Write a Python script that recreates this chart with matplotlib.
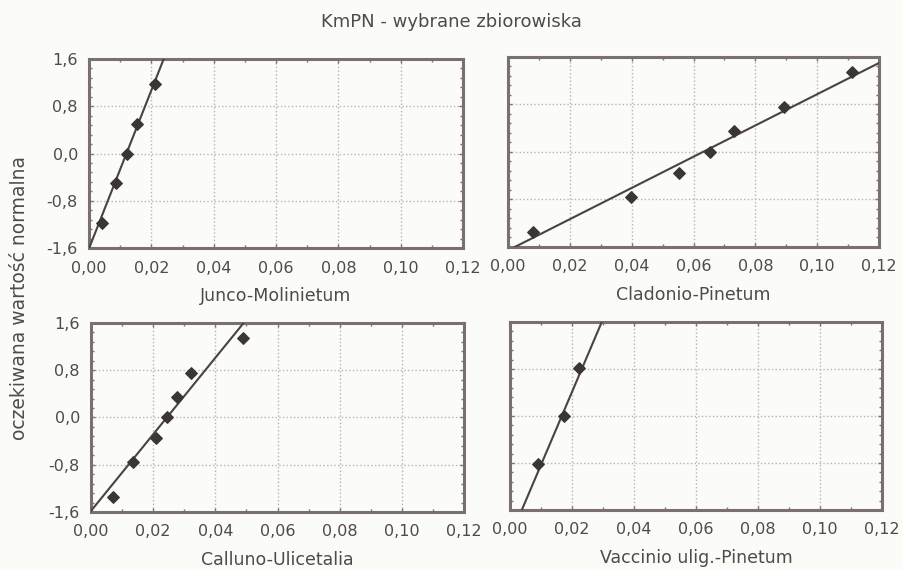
import numpy as np
import matplotlib.pyplot as plt
from matplotlib.ticker import FuncFormatter, MultipleLocator

# values
junco_x = [0.0041, 0.0087, 0.0121, 0.0155, 0.0212]
junco_z = [-1.18, -0.50, 0.0, 0.50, 1.18]
cladonio_x = [0.0080, 0.0398, 0.0553, 0.0653, 0.0732, 0.0893, 0.1111]
cladonio_z = [-1.35, -0.76, -0.35, 0.0, 0.35, 0.76, 1.35]
calluno_x = [0.0072, 0.0134, 0.0209, 0.0244, 0.0278, 0.0322, 0.0490]
calluno_z = [-1.35, -0.76, -0.35, 0.0, 0.35, 0.76, 1.35]
vaccinio_x = [0.0089, 0.0175, 0.0224]
vaccinio_z = [-0.82, 0.0, 0.82]

# fitted normal line: mean, sd
line_mean = [0.0120, 0.0630, 0.0244, 0.0167]
line_sd = [0.00747, 0.0380, 0.01543, 0.00806]

names = ['Junco-Molinietum', 'Cladonio-Pinetum', 'Calluno-Ulicetalia', 'Vaccinio ulig.-Pinetum']
xs = [junco_x, cladonio_x, calluno_x, vaccinio_x]
zs = [junco_z, cladonio_z, calluno_z, vaccinio_z]

positions = [
    [0.0986, 0.5649, 0.4142, 0.3316],
    [0.5626, 0.5667, 0.4109, 0.3333],
    [0.1008, 0.1018, 0.4131, 0.3316],
    [0.5648, 0.1053, 0.4120, 0.3298],
]

bg = '#fbfbf7'
frame = '#7a6f73'
txt = '#4f4a4c'
mark = '#3b3536'

plt.rcParams['font.family'] = ['DejaVu Sans']

fig = plt.figure(figsize=(9.03, 5.70), dpi=100, facecolor=bg)

comma = FuncFormatter(lambda v, p: ('%.2f' % v).replace('.', ','))
comma1 = FuncFormatter(lambda v, p: ('%.1f' % (0 if abs(v) < 1e-9 else v)).replace('.', ','))

for i in range(4):
    ax = fig.add_axes(positions[i])
    ax.set_facecolor(bg)
    ax.set_xlim(0, 0.12)
    ax.set_ylim(-1.6, 1.6)
    ax.xaxis.set_major_locator(MultipleLocator(0.02))
    ax.yaxis.set_major_locator(MultipleLocator(0.8))
    ax.xaxis.set_minor_locator(MultipleLocator(0.01))
    ax.yaxis.set_minor_locator(MultipleLocator(0.16))
    ax.xaxis.set_major_formatter(comma)
    ax.yaxis.set_major_formatter(comma1)
    ax.grid(True, which='major', color='#b8b4b4', linestyle=':', linewidth=1.0)
    ax.tick_params(which='both', direction='in', colors=frame, labelcolor=txt,
                   labelsize=11.5, top=True, right=True)
    ax.tick_params(which='major', length=3, width=1)
    ax.tick_params(which='minor', length=2, width=1)
    ax.tick_params(axis='x', which='major', pad=9)
    ax.tick_params(axis='y', which='major', pad=8)
    if i % 2 == 1:
        ax.tick_params(labelleft=False)
    for s in ax.spines.values():
        s.set_color(frame)
        s.set_linewidth(2.2)

    zz = np.linspace(-1.8, 1.8, 50)
    ax.plot(line_mean[i] + line_sd[i] * zz, zz, color='#4a4243', linewidth=1.5, zorder=3)
    ax.scatter(xs[i], zs[i], marker='D', s=34, color=mark, zorder=4, clip_on=False)
    ax.set_xlabel(names[i], fontsize=12.5, color=txt, labelpad=8)

fig.text(0.5, 0.961, 'KmPN - wybrane zbiorowiska', ha='center', va='center',
         fontsize=13, color=txt)
fig.text(0.022, 0.478, 'oczekiwana wartość normalna', rotation=90, ha='center',
         va='center', fontsize=13.5, color=txt)

fig.savefig('out.png', dpi=100, facecolor=bg)
